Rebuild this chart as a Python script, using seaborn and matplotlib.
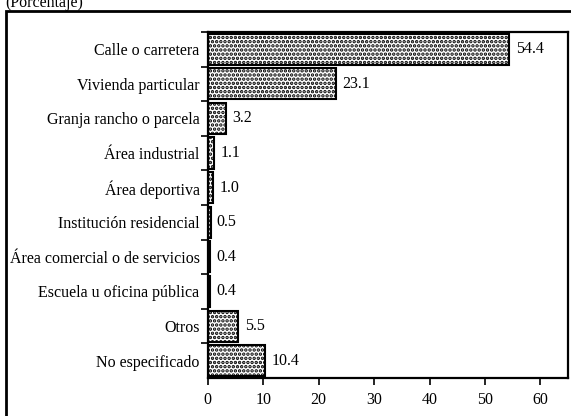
import matplotlib
matplotlib.use("Agg")
import matplotlib.pyplot as plt
import seaborn as sns
import pandas as pd
import numpy as np
from matplotlib.patches import Rectangle

categorias = [
    "Calle o carretera",
    "Vivienda particular",
    "Granja rancho o parcela",
    "Área industrial",
    "Área deportiva",
    "Institución residencial",
    "Área comercial o de servicios",
    "Escuela u oficina pública",
    "Otros",
    "No especificado",
]
porcentajes = [54.4, 23.1, 3.2, 1.1, 1.0, 0.5, 0.4, 0.4, 5.5, 10.4]
etiquetas = ["54.4", "23.1", "3.2", "1.1", "1.0", "0.5", "0.4", "0.4", "5.5", "10.4"]
xticks = [0, 10, 20, 30, 40, 50, 60]

sns.set_theme(style="white")
plt.rcParams["font.family"] = ["Liberation Serif", "DejaVu Serif"]
plt.rcParams["hatch.linewidth"] = 1.7
plt.rcParams["hatch.color"] = "black"

FS = 11.5

df = pd.DataFrame({"categoria": categorias, "valor": porcentajes})

fig = plt.figure(figsize=(5.71, 4.16), dpi=100)
ax = fig.add_axes([0.364, 0.0913, 0.631, 0.832])

sns.barplot(data=df, x="valor", y="categoria", orient="h", color="white",
            edgecolor="black", linewidth=1.5, width=0.9, ax=ax)
for p in ax.patches:
    p.set_hatch("....")
    p.set_facecolor("white")
    p.set_edgecolor("black")

for i, (v, t) in enumerate(zip(porcentajes, etiquetas)):
    ax.annotate(t, xy=(v, i), xytext=(4.5, 0), textcoords="offset points",
                va="center", ha="left", fontsize=FS, color="black")

ax.set_xlim(0, 65)
ax.set_ylim(len(categorias) - 0.5, -0.5)
ax.set_xticks(xticks)
ax.set_xlabel("")
ax.set_ylabel("")
ax.set_yticks(np.arange(len(categorias)))
ax.set_yticklabels(categorias)
ax.set_yticks(np.arange(len(categorias)) - 0.5, minor=True)
ax.tick_params(axis="y", which="major", length=0, pad=6, labelsize=FS, colors="black")
ax.tick_params(axis="y", which="minor", length=5, width=1.2, direction="out", left=True, color="black")
ax.tick_params(axis="x", which="major", length=5, width=1.2, direction="out", bottom=True,
               labelsize=FS, pad=5, colors="black")
for s in ax.spines.values():
    s.set_visible(True)
    s.set_color("black")
    s.set_linewidth(1.6)

# outer frame around the figure
fig.patches.append(Rectangle((6 / 571, -0.1), 1.2, (416 - 11) / 416 + 0.1,
                             transform=fig.transFigure, fill=False,
                             edgecolor="black", linewidth=2.0, clip_on=False))
fig.text(5 / 571, 1.0 + 5 / 416, "(Porcentaje)", ha="left", va="top",
         fontsize=FS, color="black")

fig.savefig("out.png", dpi=100)
